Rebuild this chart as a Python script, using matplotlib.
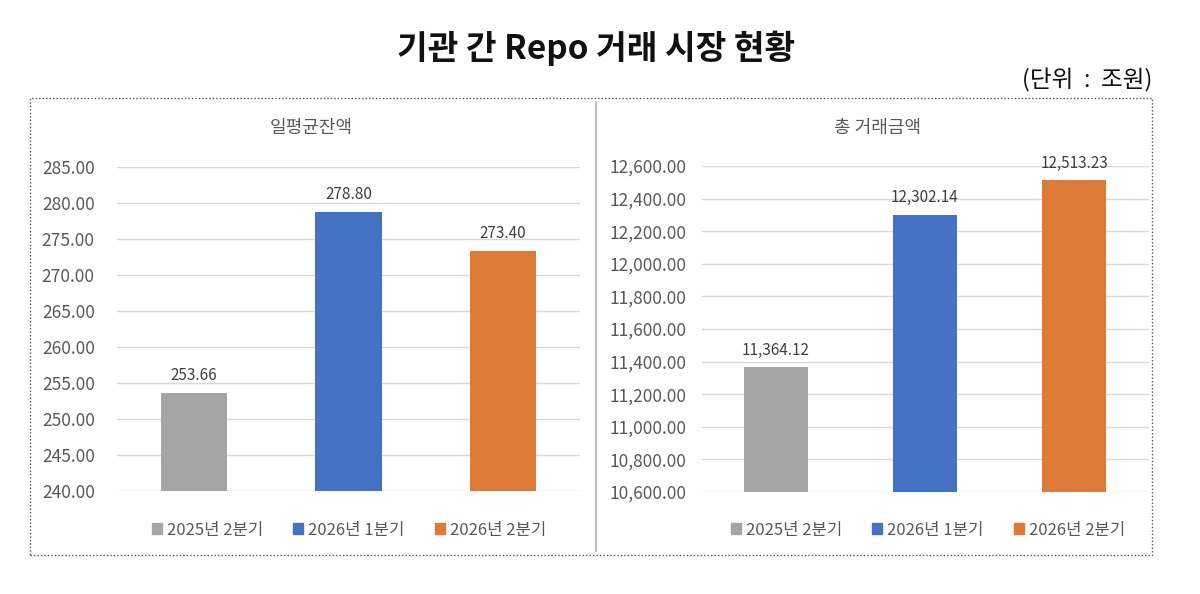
import matplotlib.pyplot as plt
from matplotlib.patches import Rectangle, Patch
from matplotlib.lines import Line2D
import numpy as np

plt.rcParams['font.family'] = ['Noto Sans CJK KR', 'DejaVu Sans']

periods = ['2025년 2분기', '2026년 1분기', '2026년 2분기']
colors = ['#A5A5A5', '#4472C4', '#DD7A37']

avg_balance = [253.66, 278.80, 273.40]
total_volume = [11364.12, 12302.14, 12513.23]

left_ticks = np.arange(240, 286, 5)
right_ticks = np.arange(10600, 12601, 200)

fig = plt.figure(figsize=(12, 5.94), dpi=100)
W, H = 1200, 594


def fx(px):
    return px / W


def fy(py):
    return 1 - py / H


# outer dotted border and divider
fig.patches.append(Rectangle((fx(30), fy(555)), fx(1152) - fx(30), fy(98) - fy(555),
                             transform=fig.transFigure, fill=False,
                             edgecolor='#555555', linestyle=(0, (1, 1.5)), linewidth=1))
fig.lines.append(Line2D([fx(596), fx(596)], [fy(102), fy(551)], transform=fig.transFigure,
                        color='#BFBFBF', linewidth=1.5))

fig.text(fx(596), fy(48), '기관 간 Repo 거래 시장 현황', ha='center', va='center',
         fontsize=24, fontweight='bold', color='#111111')
fig.text(fx(1152), fy(80), '(단위  :  조원)', ha='right', va='center',
         fontsize=17, color='#111111')


def panel(rect, values, ticks, title, fmt, title_x, legend_x, pad):
    ax = fig.add_axes(rect)
    x = np.arange(len(values))
    ax.bar(x, values, width=0.43, color=colors, zorder=3)
    ax.set_xlim(-0.5, 2.5)
    ax.set_ylim(ticks[0], ticks[-1])
    ax.set_yticks(ticks)
    ax.set_yticklabels([fmt(t) for t in ticks])
    ax.set_xticks([])
    ax.tick_params(axis='y', length=0, labelsize=12.5, labelcolor='#595959', pad=pad)
    ax.grid(axis='y', color='#D9D9D9', linewidth=1, zorder=0)
    for s in ax.spines.values():
        s.set_visible(False)
    for xi, v in zip(x, values):
        ax.annotate(fmt(v), (xi, v), xytext=(0, 6), textcoords='offset points',
                    ha='center', va='bottom', fontsize=11, color='#404040')
    fig.text(title_x, fy(128), title, ha='center', va='center', fontsize=13,
             color='#595959')
    handles = [Patch(color=c, label=p) for c, p in zip(colors, periods)]
    fig.legend(handles=handles, loc='center', bbox_to_anchor=(legend_x, fy(530)),
               ncol=3, frameon=False, fontsize=12, handlelength=0.6,
               handleheight=0.6, handletextpad=0.3, columnspacing=1.8,
               labelcolor='#595959')
    return ax


panel([fx(117), fy(491), fx(580) - fx(117), fy(167) - fy(491)], avg_balance,
      left_ticks, '일평균잔액', lambda v: f'{v:.2f}', fx(311), fx(349), 16)
panel([fx(701.5), fy(492), fx(1148.5) - fx(701.5), fy(166) - fy(492)], total_volume,
      right_ticks, '총 거래금액', lambda v: f'{v:,.2f}', fx(878), fx(928), 11)

fig.savefig('out.png', dpi=100)
